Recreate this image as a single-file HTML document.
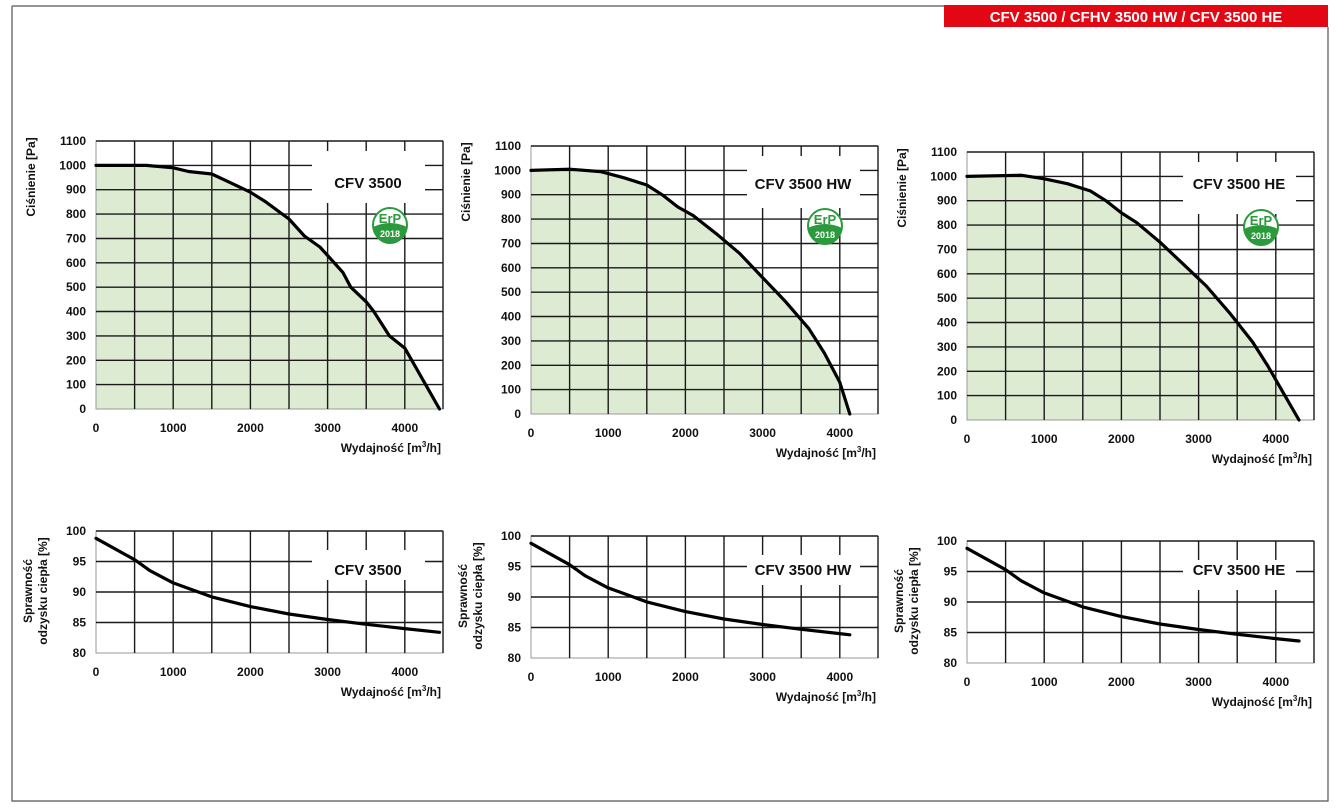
<!DOCTYPE html>
<html><head><meta charset="utf-8"><style>
html,body{margin:0;padding:0;background:#fff;}
svg{display:block;font-family:"Liberation Sans",sans-serif;font-weight:bold;}
.g{stroke:#1a1a1a;stroke-width:1.4;fill:none}
.c{stroke:#000;stroke-width:3.2;fill:none;stroke-linejoin:round;stroke-linecap:round}
.t{font-size:12px;fill:#111}
.l{font-size:15px;fill:#111}
</style></head><body>
<svg width="1337" height="812" viewBox="0 0 1337 812">
<defs>
<g id="gridT">
<rect x="0" y="0" width="347" height="268" fill="none" stroke="#999" stroke-width="1"/>
<path class="g" d="M38.6 0V268M77.2 0V268M115.8 0V268M154.4 0V268M193 0V268M231.6 0V268M270.2 0V268M308.8 0V268M347 0V268M0 0H347M0 24.4H347M0 48.7H347M0 73.1H347M0 97.5H347M0 121.8H347M0 146.2H347M0 170.5H347M0 194.9H347M0 219.3H347M0 243.6H347"/>
<rect x="216" y="10" width="113" height="52" fill="#fff"/>
</g>
<g id="ticksT" class="t">
<text x="-10" y="4" text-anchor="end">1100</text><text x="-10" y="28.4" text-anchor="end">1000</text><text x="-10" y="52.7" text-anchor="end">900</text><text x="-10" y="77.1" text-anchor="end">800</text><text x="-10" y="101.5" text-anchor="end">700</text><text x="-10" y="125.8" text-anchor="end">600</text><text x="-10" y="150.2" text-anchor="end">500</text><text x="-10" y="174.5" text-anchor="end">400</text><text x="-10" y="198.9" text-anchor="end">300</text><text x="-10" y="223.3" text-anchor="end">200</text><text x="-10" y="247.6" text-anchor="end">100</text><text x="-10" y="272" text-anchor="end">0</text>
<text x="0" y="291" text-anchor="middle">0</text><text x="77.2" y="291" text-anchor="middle">1000</text><text x="154.4" y="291" text-anchor="middle">2000</text><text x="231.6" y="291" text-anchor="middle">3000</text><text x="308.8" y="291" text-anchor="middle">4000</text>
<text x="345" y="311" text-anchor="end">Wydajność [m<tspan dy="-5" font-size="8">3</tspan><tspan dy="5">/h]</tspan></text>
<text transform="translate(-61,36) rotate(-90)" text-anchor="middle">Ciśnienie [Pa]</text>
</g>
<g id="erp">
<circle cx="0" cy="0" r="17" fill="#fff" stroke="#2a9a3c" stroke-width="2"/>
<path d="M-17 2 Q0 -6 17 2 A17 17 0 0 1 -17 2Z" fill="#2a9a3c"/>
<text x="0" y="-2" text-anchor="middle" font-size="13" fill="#2a9a3c">ErP</text>
<text x="0" y="12" text-anchor="middle" font-size="9" fill="#fff">2018</text>
</g>
<g id="gridB">
<rect x="0" y="0" width="347" height="122" fill="none" stroke="#999" stroke-width="1"/>
<path class="g" d="M38.6 0V122M77.2 0V122M115.8 0V122M154.4 0V122M193 0V122M231.6 0V122M270.2 0V122M308.8 0V122M347 0V122M0 0H347M0 30.5H347M0 61H347M0 91.5H347"/>
<rect x="216" y="19" width="113" height="30" fill="#fff"/>
</g>
<g id="ticksB" class="t">
<text x="-10" y="4" text-anchor="end">100</text><text x="-10" y="34.5" text-anchor="end">95</text><text x="-10" y="65" text-anchor="end">90</text><text x="-10" y="95.5" text-anchor="end">85</text><text x="-10" y="126" text-anchor="end">80</text>
<text x="0" y="145" text-anchor="middle">0</text><text x="77.2" y="145" text-anchor="middle">1000</text><text x="154.4" y="145" text-anchor="middle">2000</text><text x="231.6" y="145" text-anchor="middle">3000</text><text x="308.8" y="145" text-anchor="middle">4000</text>
<text x="345" y="165" text-anchor="end">Wydajność [m<tspan dy="-5" font-size="8">3</tspan><tspan dy="5">/h]</tspan></text>
<text transform="translate(-64,60) rotate(-90)" text-anchor="middle">Sprawność</text>
<text transform="translate(-49,60) rotate(-90)" text-anchor="middle">odzysku ciepła [%]</text>
</g>
</defs>

<path d="M12 6H944M12 6V801H1328V27" fill="none" stroke="#555" stroke-width="1.2"/>
<rect x="944" y="5" width="384" height="22" fill="#e30613"/>
<text x="1136" y="22" text-anchor="middle" font-size="15" fill="#fff">CFV 3500 / CFHV 3500 HW / CFV 3500 HE</text>

<!-- chart 1 -->
<g transform="translate(96,141)">
<path d="M0 268V24.4L50.2 24.4L77.2 26.8L92.6 30.5L115.8 33L131.2 40.2L154.4 51.2L169.8 60.9L193 78L208.4 95L223.9 106L231.6 114.5L247 131.6L254.8 146.2L270.2 160.8L277.9 170.6L293.4 194.9L308.8 207.1L343.5 268Z" fill="#ddebd3"/>
<use href="#gridT"/>
<path class="c" d="M0 24.4L50.2 24.4L77.2 26.8L92.6 30.5L115.8 33L131.2 40.2L154.4 51.2L169.8 60.9L193 78L208.4 95L223.9 106L231.6 114.5L247 131.6L254.8 146.2L270.2 160.8L277.9 170.6L293.4 194.9L308.8 207.1L343.5 268"/>
<text class="l" x="272" y="47" text-anchor="middle">CFV 3500</text>
<use href="#erp" transform="translate(294,84)"/>
<use href="#ticksT"/>
</g>
<!-- chart 2 -->
<g transform="translate(531,146)">
<path d="M0 268V24.4L38.6 23.2L69.5 25.6L92.6 31.7L115.8 39L131.2 48.8L146.7 60.9L162.1 69.5L185.3 87.7L208.4 107.2L231.6 131.6L254.8 155.9L277.9 182.7L293.4 207.1L308.8 236.3L318.8 268Z" fill="#ddebd3"/>
<use href="#gridT"/>
<path class="c" d="M0 24.4L38.6 23.2L69.5 25.6L92.6 31.7L115.8 39L131.2 48.8L146.7 60.9L162.1 69.5L185.3 87.7L208.4 107.2L231.6 131.6L254.8 155.9L277.9 182.7L293.4 207.1L308.8 236.3L318.8 268"/>
<text class="l" x="272" y="43" text-anchor="middle">CFV 3500 HW</text>
<use href="#erp" transform="translate(294,80)"/>
<use href="#ticksT"/>
</g>
<!-- chart 3 -->
<g transform="translate(967,152)">
<path d="M0 268V24.4L54 23.2L77.2 26.8L100.4 31.7L123.5 39L139 48.8L154.4 60.9L169.8 70.7L193 90.2L216.2 112.1L239.3 134L262.5 160.8L285.6 190L301.1 214.4L316.5 241.2L332 268Z" fill="#ddebd3"/>
<use href="#gridT"/>
<path class="c" d="M0 24.4L54 23.2L77.2 26.8L100.4 31.7L123.5 39L139 48.8L154.4 60.9L169.8 70.7L193 90.2L216.2 112.1L239.3 134L262.5 160.8L285.6 190L301.1 214.4L316.5 241.2L332 268"/>
<text class="l" x="272" y="37" text-anchor="middle">CFV 3500 HE</text>
<use href="#erp" transform="translate(294,75)"/>
<use href="#ticksT"/>
</g>

<!-- bottom charts -->
<g transform="translate(96,531)">
<use href="#gridB"/>
<path class="c" d="M0 7.3L38.6 28.7L54 39.7L77.2 51.9L115.8 65.9L154.4 75.6L193 83L231.6 88.5L270.2 93.3L308.8 97.6L343.5 101.3"/>
<text class="l" x="272" y="44" text-anchor="middle">CFV 3500</text>
<use href="#ticksB"/>
</g>
<g transform="translate(531,536)">
<use href="#gridB"/>
<path class="c" d="M0 7.3L38.6 28.7L54 39.7L77.2 51.9L115.8 65.9L154.4 75.6L193 83L231.6 88.5L270.2 93.3L308.8 97.6L318.8 98.8"/>
<text class="l" x="272" y="39" text-anchor="middle">CFV 3500 HW</text>
<use href="#ticksB"/>
</g>
<g transform="translate(967,541)">
<use href="#gridB"/>
<path class="c" d="M0 7.3L38.6 28.7L54 39.7L77.2 51.9L115.8 65.9L154.4 75.6L193 83L231.6 88.5L270.2 93.3L308.8 97.6L332 100"/>
<text class="l" x="272" y="34" text-anchor="middle">CFV 3500 HE</text>
<use href="#ticksB"/>
</g>
</svg>
</body></html>
